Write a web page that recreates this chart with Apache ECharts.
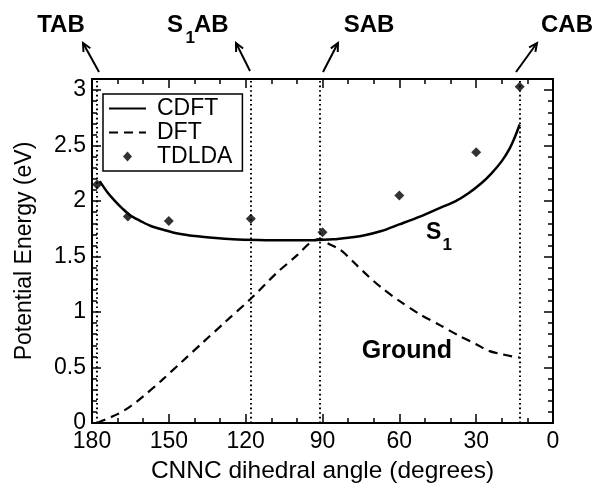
<!DOCTYPE html>
<html>
<head>
<meta charset="utf-8">
<script src="https://cdn.jsdelivr.net/npm/echarts@6/dist/echarts.min.js"></script>
<style>
  html, body { margin: 0; padding: 0; background: #fff; }
  #chart { width: 607px; height: 492px; }
</style>
</head>
<body>
<div id="chart"></div>
<script>
const FONT = "'Liberation Sans', Arial, Helvetica, sans-serif";

// CNNC dihedral angle (degrees) vs potential energy (eV)
const cdftAngle  = [177, 174, 171, 168, 165, 161, 157, 152, 146, 140, 133, 125, 115, 105, 95, 91, 86, 80, 74, 67, 60, 52, 45, 38, 33, 28, 24, 20, 17, 15, 13];
const cdftEnergy = [2.18, 2.08, 2.00, 1.93, 1.87, 1.82, 1.775, 1.74, 1.705, 1.685, 1.67, 1.657, 1.65, 1.647, 1.647, 1.65, 1.655, 1.67, 1.69, 1.73, 1.79, 1.86, 1.93, 2.00, 2.07, 2.16, 2.25, 2.36, 2.47, 2.57, 2.69];

const dftAngle  = [178, 175, 170, 165, 160, 153, 145, 137, 128, 118, 108, 100, 95, 91, 88, 83, 77, 72, 67, 60, 52, 44, 37, 30, 25, 20, 16, 13];
const dftEnergy = [0.00, 0.03, 0.08, 0.15, 0.24, 0.38, 0.55, 0.72, 0.91, 1.12, 1.35, 1.51, 1.62, 1.66, 1.62, 1.56, 1.43, 1.32, 1.22, 1.10, 0.98, 0.88, 0.79, 0.71, 0.65, 0.62, 0.60, 0.59];

const tdldaAngle  = [178, 166, 150, 118, 90, 60, 30, 13];
const tdldaEnergy = [2.15, 1.86, 1.82, 1.84, 1.72, 2.05, 2.44, 3.03];

// reference conformers marked by dotted verticals
const conformerAngle = [178, 118, 91, 13];

const xTicks = [180, 150, 120, 90, 60, 30, 0];
const yTicks = [0, 0.5, 1, 1.5, 2, 2.5, 3];

const zip = (a, b) => a.map((v, i) => [v, b[i]]);

const axisLineStyle = { color: '#000', width: 2 };
const tickStyle = { color: '#000', width: 1.5 };

// legend glyph: small diamond centred in a 37x10 frame (move-to points set the frame)
const LEGEND_DIAMOND = 'path://M0,0 M37,10 M14,5 L18.5,0 L23,5 L18.5,10 Z';

function xAxisDef(pos, showLabels) {
  return {
    type: 'value', position: pos, min: 0, max: 180, interval: 30, inverse: true,
    axisLine: { show: true, onZero: false, lineStyle: axisLineStyle },
    axisTick: { show: true, inside: true, length: 9, lineStyle: tickStyle },
    minorTick: { show: true, splitNumber: 3, length: 5, lineStyle: tickStyle },
    splitLine: { show: false }, minorSplitLine: { show: false },
    axisLabel: {
      show: showLabels, fontSize: 23, color: '#000', fontFamily: FONT, margin: 7,
      formatter: v => (xTicks.indexOf(v) >= 0 ? String(v) : '')
    },
    name: showLabels ? 'CNNC dihedral angle (degrees)' : '',
    nameLocation: 'middle', nameGap: 36,
    nameTextStyle: { fontSize: 24.5, color: '#000', fontFamily: FONT }
  };
}

function yAxisDef(pos, showLabels) {
  return {
    type: 'value', position: pos, min: 0, max: 3.1, interval: 0.5,
    axisLine: { show: true, onZero: false, lineStyle: axisLineStyle },
    axisTick: { show: true, inside: true, length: 9, lineStyle: tickStyle },
    minorTick: { show: true, splitNumber: 5, length: 5, lineStyle: tickStyle },
    splitLine: { show: false }, minorSplitLine: { show: false },
    axisLabel: {
      show: showLabels, fontSize: 23, color: '#000', fontFamily: FONT, margin: 6,
      showMaxLabel: false,
      formatter: v => (yTicks.some(t => Math.abs(t - v) < 1e-6) ? String(v) : '')
    },
    name: showLabels ? 'Potential Energy (eV)' : '',
    nameLocation: 'middle', nameGap: 56,
    nameTextStyle: { fontSize: 23, color: '#000', fontFamily: FONT }
  };
}

// open arrow from tail (x1,y1) to head (x2,y2)
function arrow(x1, y1, x2, y2) {
  const ang = Math.atan2(y2 - y1, x2 - x1);
  const len = 9, spread = 0.45;
  const a1 = ang + Math.PI - spread, a2 = ang + Math.PI + spread;
  const style = { stroke: '#000', lineWidth: 2, fill: null };
  return [
    { type: 'line', shape: { x1, y1, x2, y2 }, style },
    { type: 'polyline', shape: { points: [
      [x2 + len * Math.cos(a1), y2 + len * Math.sin(a1)], [x2, y2],
      [x2 + len * Math.cos(a2), y2 + len * Math.sin(a2)] ] }, style }
  ];
}

function label(text, x, y, size, align) {
  return {
    type: 'text', x, y,
    style: {
      text, fill: '#000', font: 'bold ' + size + 'px ' + FONT,
      align: align || 'center', verticalAlign: 'middle'
    }
  };
}

const graphics = [
  label('TAB', 61, 25, 24),
  label('S', 167, 25, 24, 'left'),
  label('1', 185.5, 38, 17, 'left'),
  label('AB', 194, 25, 24, 'left'),
  label('SAB', 369, 25, 24),
  label('CAB', 541, 25, 24, 'left'),
  label('S', 426, 233, 23, 'left'),
  label('1', 442.5, 245, 17, 'left'),
  label('Ground', 407, 351, 25),
  ...arrow(99, 72, 83, 43),
  ...arrow(250, 71, 236, 43),
  ...arrow(323, 72, 338, 43),
  ...arrow(516, 72, 537, 43)
];

const chart = echarts.init(document.getElementById('chart'), null, { renderer: 'canvas' });
chart.setOption({
  animation: false,
  backgroundColor: '#fff',
  grid: { left: 92, right: 54, top: 79, bottom: 69 },
  xAxis: [xAxisDef('bottom', true), xAxisDef('top', false)],
  yAxis: [yAxisDef('left', true), yAxisDef('right', false)],
  legend: {
    left: 103, top: 94, orient: 'vertical',
    itemWidth: 37, itemHeight: 10, itemGap: 1,
    padding: [3, 10, 3, 5],
    borderColor: '#000', borderWidth: 1.5, borderRadius: 0,
    textStyle: { fontSize: 23, color: '#000', fontFamily: FONT, padding: [0, 0, 0, 6] },
    data: [
      { name: 'CDFT', itemStyle: { opacity: 0 } },
      { name: 'DFT', itemStyle: { opacity: 0 } },
      { name: 'TDLDA', icon: LEGEND_DIAMOND }
    ]
  },
  series: [
    {
      name: 'CDFT', type: 'line', data: zip(cdftAngle, cdftEnergy),
      symbol: 'none', smooth: 0.3,
      lineStyle: { color: '#000', width: 2.5, type: 'solid' },
      itemStyle: { color: '#000' },
      markLine: {
        silent: true, symbol: ['none', 'none'], label: { show: false },
        lineStyle: { color: '#000', width: 2, type: [1.6, 3] },
        data: conformerAngle.map(a => ({ xAxis: a }))
      },
      z: 3
    },
    {
      name: 'DFT', type: 'line', data: zip(dftAngle, dftEnergy),
      symbol: 'none', smooth: 0.3,
      lineStyle: { color: '#000', width: 2.2, type: [9, 6] },
      itemStyle: { color: '#000' },
      z: 3
    },
    {
      name: 'TDLDA', type: 'scatter', data: zip(tdldaAngle, tdldaEnergy),
      symbol: 'diamond', symbolSize: 10,
      itemStyle: { color: '#000' },
      z: 4
    }
  ],
  graphic: graphics
});
</script>
</body>
</html>
